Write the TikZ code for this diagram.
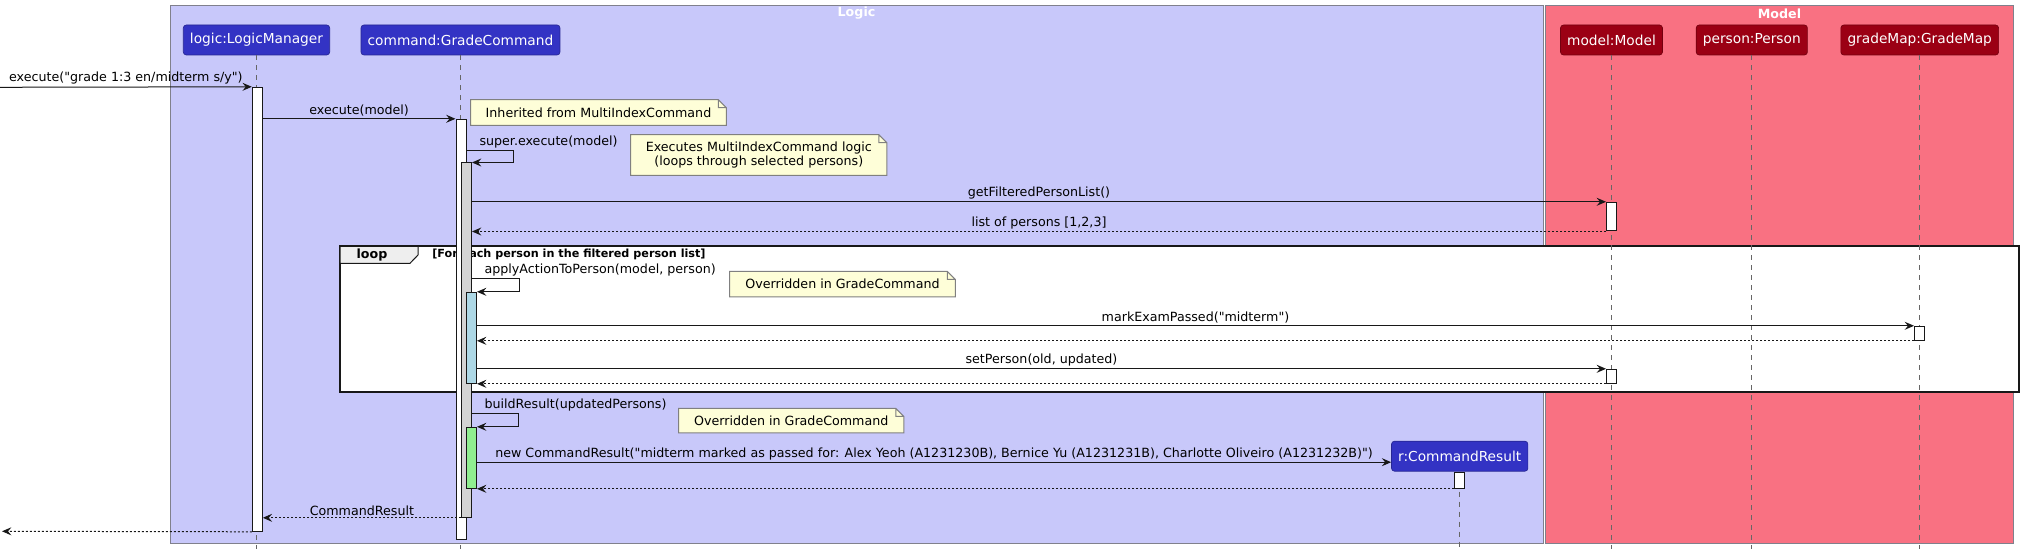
\documentclass[tikz,border=0pt]{standalone}
\usepackage{fontspec}
\setmainfont{DejaVu Sans}[Ligatures=TeXOff]
\usetikzlibrary{arrows.meta,positioning,calc,fit}
\definecolor{logicbg}{RGB}{200,200,250}
\definecolor{modelbg}{RGB}{249,113,130}
\definecolor{logicbox}{RGB}{51,51,196}
\definecolor{modelbox}{RGB}{155,0,20}
\definecolor{notebg}{RGB}{254,254,216}
\definecolor{framegray}{RGB}{128,128,140}
\definecolor{tabgray}{RGB}{238,238,238}
\definecolor{actgray}{RGB}{211,211,211}
\definecolor{actblue}{RGB}{173,216,230}
\definecolor{actgreen}{RGB}{144,238,144}
\definecolor{ink}{RGB}{24,24,24}
\newcommand{\pxu}{0.75pt}
\tikzset{
  msgfont/.style = {font=\fontsize{9.5pt}{11pt}\selectfont},
  part/.style = {rectangle, rounded corners=2.25pt, draw=#1!75!black, fill=#1, text=white,
    line width=0.5pt, minimum height=30*\pxu, inner xsep=5pt, font=\fontsize{10.3pt}{12pt}\selectfont},
  grouptitle/.style = {text=white, inner sep=0pt, font=\fontsize{9.5pt}{11pt}\bfseries\selectfont},
  lifeline/.style = {draw=black!60, line width=0.75pt, dash pattern=on 3.75pt off 3.75pt},
  act/.style = {rectangle, draw=ink, line width=0.75pt, inner sep=0pt, fill=#1},
  act/.default = white,
  msg/.style = {draw=ink, line width=0.75pt, -{Stealth[length=7pt,width=6pt,inset=2.5pt]}},
  ret/.style = {msg, dash pattern=on 1.5pt off 1.5pt},
  lbl/.style = {msgfont, inner sep=1.5pt, above},
  selflbl/.style = {msgfont, inner sep=1.5pt, pos=0, anchor=south west, xshift=7.5pt},
  note/.style = {rectangle, fill=notebg, draw=none, inner sep=0pt, align=center, msgfont},
  noteline/.style = {draw=black!50, line width=0.75pt},
}
\newcommand{\notefold}[2]{%
  \fill[#2] (#1.north east) -- ++(-8,0) -- ++(8,8) -- cycle;
  \draw[noteline] (#1.south west) -- (#1.north west) -- ($(#1.north east)+(-8,0)$)
    -- ($(#1.north east)+(0,8)$) -- (#1.south east) -- cycle
    ($(#1.north east)+(-8,0)$) |- ($(#1.north east)+(0,8)$);
}
\begin{document}
\begin{tikzpicture}[x=0.75pt, y=-0.75pt]
\useasboundingbox (0,0) rectangle (2024,555);

% boxes of the two components
\filldraw[fill=logicbg, draw=framegray, line width=0.75pt] (170,6) rectangle (1543.5,543.3);
\filldraw[fill=modelbg, draw=framegray, line width=0.75pt] (1545.6,6) rectangle (2013.3,543.3);
\node[grouptitle] (logicTitle) at (856.5,13.5) {Logic};
\node[grouptitle] (modelTitle) at (1779.5,13.5) {Model};

% loop frame
\filldraw[fill=white, draw=ink, line width=1.5pt] (340,246.5) rectangle (2019.3,391.7);
\filldraw[fill=tabgray, draw=ink, line width=0.75pt]
  (340,246.5) -- (418,246.5) -- (418,255) -- (410,263.3) -- (340,263.3) -- cycle;
\node[msgfont, font=\fontsize{9.5pt}{11pt}\bfseries\selectfont, inner sep=0pt] (loopTag) at (372,255) {loop};
\node[anchor=west, inner sep=0pt, font=\fontsize{8.4pt}{10pt}\bfseries\selectfont] (loopGuard) at (432,254)
  {[For each person in the filtered person list]};

% participants
\coordinate (bottom) at (0,549);
\node[part=logicbox] (lm) at (256.5,40) {logic:LogicManager};
\node[part=logicbox] (gc) at (460.5,40) {command:GradeCommand};
\node[part=modelbox] (model) at (1611.5,40) {model:Model};
\node[part=modelbox] (person) at (1751.8,40) {person:Person};
\node[part=modelbox] (gradeMap) at (1919.7,40) {gradeMap:GradeMap};
\node[part=logicbox] (cr) at (1459.7,456.2) {r:CommandResult};

% lifelines
\foreach \p in {lm,gc,model,person,gradeMap,cr}
  \draw[lifeline] (\p.south) -- (\p.south |- bottom);

% activations
\node[act, fit={(252.3,87.3) (262.3,531.3)}] (actLM) {};
\node[act, fit={(456,119.3) (466.5,539.7)}] (actGC) {};
\node[act=actgray, fit={(461.5,163) (471.5,517.3)}] (actExec) {};
\node[act=actblue, fit={(466.5,292.3) (476.5,383.3)}] (actApply) {};
\node[act=actgreen, fit={(466.5,427.3) (476.5,488.3)}] (actBuild) {};
\node[act, fit={(1606.5,202.3) (1616.7,231)}] (actModelA) {};
\node[act, fit={(1914.5,326.3) (1924.6,340.3)}] (actMap) {};
\node[act, fit={(1606.5,369.3) (1616.7,383.3)}] (actModelB) {};
\node[act, fit={(1454.5,472.3) (1464.7,488.3)}] (actResult) {};

% messages
\coordinate (inStart) at (0,87.3);
\coordinate (outEnd) at (2,531.3);
\coordinate (crIn) at ($(cr.west)+(0,6)$);
\draw[msg] (inStart) -- node[lbl] {execute("grade 1:3 en/midterm s/y")} (actLM.north west);
\draw[msg] (actLM.east |- actGC.north) -- node[lbl] {execute(model)} (actGC.north west);
\draw[msg] ($(actGC.east |- actExec.north)+(0,-12.3)$) -- node[selflbl] {super.execute(model)}
  ++(46.5,0) |- (actExec.north east);
\draw[msg] (actExec.east |- actModelA.north) -- node[lbl] {getFilteredPersonList()} (actModelA.north west);
\draw[ret] (actModelA.south west) -- node[lbl] {list of persons [1,2,3]} (actExec.east |- actModelA.south);
\draw[msg] ($(actExec.east |- actApply.north)+(0,-13)$) -- node[selflbl] {applyActionToPerson(model, person)}
  ++(47.2,0) |- (actApply.north east);
\draw[msg] (actApply.east |- actMap.north) -- node[lbl] {markExamPassed("midterm")} (actMap.north west);
\draw[ret] (actMap.south west) -- (actApply.east |- actMap.south);
\draw[msg] (actApply.east |- actModelB.north) -- node[lbl] {setPerson(old, updated)} (actModelB.north west);
\draw[ret] (actModelB.south west) -- (actApply.south east);
\draw[msg] ($(actExec.east |- actBuild.north)+(0,-13)$) -- node[selflbl] {buildResult(updatedPersons)}
  ++(46.9,0) |- (actBuild.north east);
\draw[msg] (actBuild.east |- crIn) -- node[lbl] {new CommandResult("midterm marked as passed for: Alex Yeoh (A1231230B), Bernice Yu (A1231231B), Charlotte Oliveiro (A1231232B)")} (crIn);
\draw[ret] (actResult.south west) -- (actBuild.south east);
\draw[ret] (actExec.south west) -- node[lbl] {CommandResult} (actLM.east |- actExec.south);
\draw[ret] (actLM.south west) -- (outEnd);

% notes
\node[note, minimum width=255*\pxu, minimum height=25*\pxu] (noteInherit) at (598.5,112.5)
  {Inherited from MultiIndexCommand};
\notefold{noteInherit}{logicbg}
\node[note, minimum width=255.6*\pxu, minimum height=40*\pxu] (noteLoop) at (758.8,155)
  {Executes MultiIndexCommand logic\\(loops through selected persons)};
\notefold{noteLoop}{logicbg}
\node[note, minimum width=225*\pxu, minimum height=25*\pxu] (noteApply) at (842.5,284.2)
  {Overridden in GradeCommand};
\notefold{noteApply}{white}
\node[note, minimum width=224.6*\pxu, minimum height=24*\pxu] (noteBuild) at (791.3,420.7)
  {Overridden in GradeCommand};
\notefold{noteBuild}{logicbg}
\end{tikzpicture}
\end{document}
